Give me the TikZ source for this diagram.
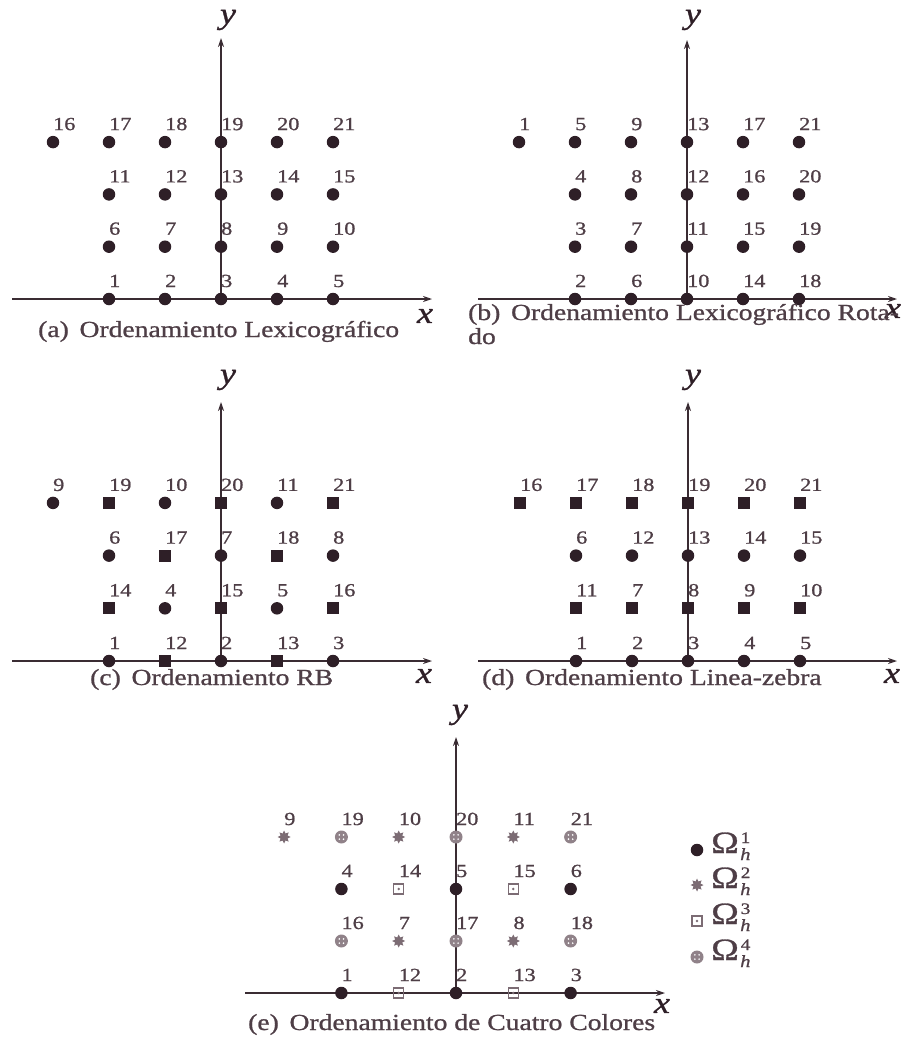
\documentclass[tikz,border=0pt]{standalone}
\usepackage{fontspec}
\setmainfont{Liberation Serif}[FakeStretch=1.2, FakeBold=1]
\usetikzlibrary{shapes.geometric,arrows.meta}
\definecolor{dotc}{HTML}{2E1F27}
\definecolor{txtc}{HTML}{4E3E46}
\definecolor{axc}{HTML}{3A2C33}
\definecolor{grc}{HTML}{7C6C74}
\tikzset{
 lbl/.style={font=\fontsize{18.5}{18}\selectfont, text=txtc, anchor=base west, inner sep=0pt},
 captxt/.style={font=\fontsize{23}{24}\selectfont, text=txtc, anchor=base west, inner sep=0pt, align=left},
 axlbl/.style={font=\fontsize{30}{30}\selectfont\itshape, text=dotc, inner sep=0pt},
 cdot/.style={circle, fill=dotc, minimum size=12.5pt, inner sep=0pt},
 sdot/.style={rectangle, fill=dotc, minimum size=12pt, inner sep=0pt},
 mB/.style={star, star points=8, star point ratio=1.7, fill=grc, minimum size=13pt, inner sep=0pt},
 mC/.style={rectangle, draw=grc, line width=1.2pt, minimum size=10pt, inner sep=0pt,
   path picture={\fill[grc] (path picture bounding box.center) circle (1.4pt);}},
 mD/.style={circle, fill=grc!85, minimum size=13pt, inner sep=0pt,
   path picture={\foreach \a in {45,135,225,315}{\fill[white] ([shift={(\a:3pt)}]path picture bounding box.center) circle (0.9pt);}}},
 axln/.style={draw=axc, line width=1.3pt, -{Stealth[length=9pt,width=6pt]}},
 legtxt/.style={font=\fontsize{31}{31}\selectfont, text=txtc, anchor=base west, inner sep=0pt},
 legsup/.style={font=\fontsize{16}{16}\selectfont, text=txtc, anchor=base west, inner sep=0pt},
 legsub/.style={font=\fontsize{17}{17}\selectfont\itshape, text=txtc, anchor=base west, inner sep=0pt},
}
\newcommand\mk[5]{\node[#2] (#1#5) at (#3*\DX, -#4*\DY) {};
  \node[lbl] (#1#5l) at ([yshift=12pt]#1#5.center) {#5};}
\newcommand\legrow[4]{% name, marker style, baseline y, superscript
  \node[#2] (#1m) at (697,#3-3) {};
  \node[legtxt] (#1) at (711,#3) {Ω};
  \node[legsup] (#1s) at ([xshift=1.5pt,yshift=10pt]#1.base east) {#4};
  \node[legsub] (#1h) at ([xshift=1pt,yshift=-7pt]#1.base east) {h};}
\begin{document}
\begin{tikzpicture}[x=1pt, y=-1pt]
\path[use as bounding box] (0,0) rectangle (909,1041);
% ---------- (a)
\draw[axln] (12,299) -- (432,299);
\draw[axln] (221,299) -- (221,38);
\node[axlbl] (ay) at (228,20) {y};
\node[axlbl] (ax) at (425,316) {x};
\begin{scope}[shift={(221,299)}]
\def\DX{56}\def\DY{52.3}
\foreach \i/\j/\n in {-3/3/16,-2/3/17,-1/3/18,0/3/19,1/3/20,2/3/21,
  -2/2/11,-1/2/12,0/2/13,1/2/14,2/2/15,
  -2/1/6,-1/1/7,0/1/8,1/1/9,2/1/10,
  -2/0/1,-1/0/2,0/0/3,1/0/4,2/0/5}{\mk{a}{cdot}{\i}{\j}{\n}}
\end{scope}
\node[captxt] (capa) at (38,337) {(a)\, Ordenamiento Lexicográfico};
% ---------- (b)
\draw[axln] (478,299) -- (897,299);
\draw[axln] (687,299) -- (687,40);
\node[axlbl] (by) at (693,20) {y};
\node[axlbl] (bx) at (893,311) {x};
\begin{scope}[shift={(687,299)}]
\def\DX{56}\def\DY{52.3}
\foreach \i/\j/\n in {-3/3/1,-2/3/5,-1/3/9,0/3/13,1/3/17,2/3/21,
  -2/2/4,-1/2/8,0/2/12,1/2/16,2/2/20,
  -2/1/3,-1/1/7,0/1/11,1/1/15,2/1/19,
  -2/0/2,-1/0/6,0/0/10,1/0/14,2/0/18}{\mk{b}{cdot}{\i}{\j}{\n}}
\end{scope}
\node[captxt] (capb) at (468,344) {(b)\, Ordenamiento Lexicográfico Rota-\\do};
% ---------- (c)
\draw[axln] (12,661) -- (432,661);
\draw[axln] (221,661) -- (221,402);
\node[axlbl] (cy) at (228,380) {y};
\node[axlbl] (cx) at (424,676) {x};
\begin{scope}[shift={(221,661)}]
\def\DX{56}\def\DY{52.7}
\foreach \i/\j/\n in {-3/3/9,-1/3/10,1/3/11,-2/2/6,0/2/7,2/2/8,-1/1/4,1/1/5,
  -2/0/1,0/0/2,2/0/3}{\mk{c}{cdot}{\i}{\j}{\n}}
\foreach \i/\j/\n in {-2/3/19,0/3/20,2/3/21,-1/2/17,1/2/18,-2/1/14,0/1/15,2/1/16,
  -1/0/12,1/0/13}{\mk{c}{sdot}{\i}{\j}{\n}}
\end{scope}
\node[captxt] (capc) at (90,685) {(c)\, Ordenamiento RB};
% ---------- (d)
\draw[axln] (478,661) -- (897,661);
\draw[axln] (688,661) -- (688,402);
\node[axlbl] (dy) at (693,380) {y};
\node[axlbl] (dx) at (892,676) {x};
\begin{scope}[shift={(688,661)}]
\def\DX{56}\def\DY{52.7}
\foreach \i/\j/\n in {-3/3/16,-2/3/17,-1/3/18,0/3/19,1/3/20,2/3/21,
  -2/1/11,-1/1/7,0/1/8,1/1/9,2/1/10}{\mk{d}{sdot}{\i}{\j}{\n}}
\foreach \i/\j/\n in {-2/2/6,-1/2/12,0/2/13,1/2/14,2/2/15,
  -2/0/1,-1/0/2,0/0/3,1/0/4,2/0/5}{\mk{d}{cdot}{\i}{\j}{\n}}
\end{scope}
\node[captxt] (capd) at (482,685) {(d)\, Ordenamiento Linea-zebra};
% ---------- (e)
\draw[axln] (245,993) -- (665,993);
\draw[axln] (456,993) -- (456,737);
\node[axlbl] (ey) at (460,715) {y};
\node[axlbl] (ex) at (662,1006) {x};
\begin{scope}[shift={(456,993)}]
\def\DX{57.3}\def\DY{52}
\foreach \i/\j/\n in {-2/2/4,0/2/5,2/2/6,-2/0/1,0/0/2,2/0/3}{\mk{e}{cdot}{\i}{\j}{\n}}
\foreach \i/\j/\n in {-3/3/9,-1/3/10,1/3/11,-1/1/7,1/1/8}{\mk{e}{mB}{\i}{\j}{\n}}
\foreach \i/\j/\n in {-1/2/14,1/2/15,-1/0/12,1/0/13}{\mk{e}{mC}{\i}{\j}{\n}}
\foreach \i/\j/\n in {-2/3/19,0/3/20,2/3/21,-2/1/16,0/1/17,2/1/18}{\mk{e}{mD}{\i}{\j}{\n}}
\end{scope}
\node[captxt] (cape) at (248,1030) {(e)\, Ordenamiento de Cuatro Colores};
% legend
\legrow{lt1}{cdot}{853}{1}
\legrow{lt2}{mB}{888}{2}
\legrow{lt3}{mC}{924}{3}
\legrow{lt4}{mD}{960}{4}
\end{tikzpicture}
\end{document}
